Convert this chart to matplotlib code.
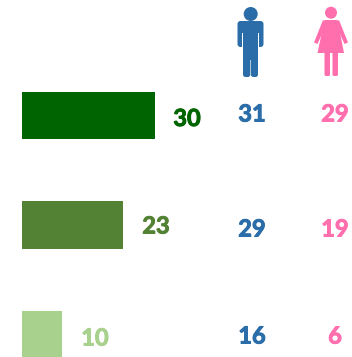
import matplotlib
matplotlib.use("Agg")
import matplotlib.pyplot as plt
from matplotlib.patches import Circle, FancyBboxPatch, Polygon
import matplotlib.patheffects as pe

W, H = 352, 357
totals = [30, 23, 10]
bar_lengths = [30, 22.8, 9]
men = [31, 29, 16]
women = [29, 19, 6]
bar_colors = ["#006400", "#548235", "#A9D18E"]
BLUE = "#2A6DA8"
PINK = "#FF6FAE"
FONT = "Lato"

fig = plt.figure(figsize=(W / 100, H / 100), dpi=100)
fig.patch.set_facecolor("white")

# Bar axes: x scale 4.43 px per unit starting at px 22; row spacing 109.5 px
ax = fig.add_axes([0, 0, 1, 1])
ax.set_xlim(-22 / 4.43, (W - 22) / 4.43)
ax.set_ylim((H - 115.5) / 109.5, -115.5 / 109.5)
ax.axis("off")
ax.barh(range(3), bar_lengths, height=0.43, color=bar_colors, edgecolor="none")

# Pixel overlay for icons and text
ov = fig.add_axes([0, 0, 1, 1])
ov.set_xlim(0, W)
ov.set_ylim(H, 0)
ov.axis("off")
ov.patch.set_alpha(0)

label_x = [187, 156, 95]
label_y = [118.5, 226, 338]
col_y = [114, 229, 336]


def label(x, y, s, color):
    ov.text(x, y, s, color=color, fontsize=17, fontweight="bold", family=FONT,
            ha="center", va="center",
            path_effects=[pe.withStroke(linewidth=0.7, foreground=color)])


for i in range(3):
    label(label_x[i], label_y[i], str(totals[i]), bar_colors[i])
    label(252, col_y[i], str(men[i]), BLUE)
    label(335, col_y[i], str(women[i]), PINK)


def rbox(x0, y0, x1, y1, r, color):
    ov.add_patch(FancyBboxPatch((x0 + r, y0 + r), x1 - x0 - 2 * r, y1 - y0 - 2 * r,
                                boxstyle=f"round,pad={r},rounding_size={r}",
                                fc=color, ec="none"))


# Man icon
ov.add_patch(Circle((250.7, 14), 7, fc=BLUE, ec="none"))
rbox(237.5, 21, 263.5, 47, 3, BLUE)
rbox(243, 30, 258, 60, 0, BLUE)
rbox(243, 50, 250.3, 77, 2.5, BLUE)
rbox(250.9, 50, 258, 77, 2.5, BLUE)
ov.add_patch(Polygon([(242.2, 33), (243, 33), (243, 48), (242.2, 48)], fc="white", ec="none"))
ov.add_patch(Polygon([(258, 33), (258.8, 33), (258.8, 48), (258, 48)], fc="white", ec="none"))

# Woman icon
ov.add_patch(Circle((331, 12.7), 6, fc=PINK, ec="none"))
ov.add_patch(Polygon([(324.5, 20), (337.5, 20), (344, 53), (317.5, 53)], fc=PINK, ec="none"))
ov.add_patch(Polygon([(323, 20), (327, 23), (317.5, 44), (314, 42.5)], fc=PINK, ec="none"))
ov.add_patch(Polygon([(339, 20), (335, 23), (344.5, 44), (348, 42.5)], fc=PINK, ec="none"))
rbox(324.5, 50, 330, 76, 1.5, PINK)
rbox(332.5, 50, 338, 76, 1.5, PINK)

fig.savefig("out.png", dpi=100)
